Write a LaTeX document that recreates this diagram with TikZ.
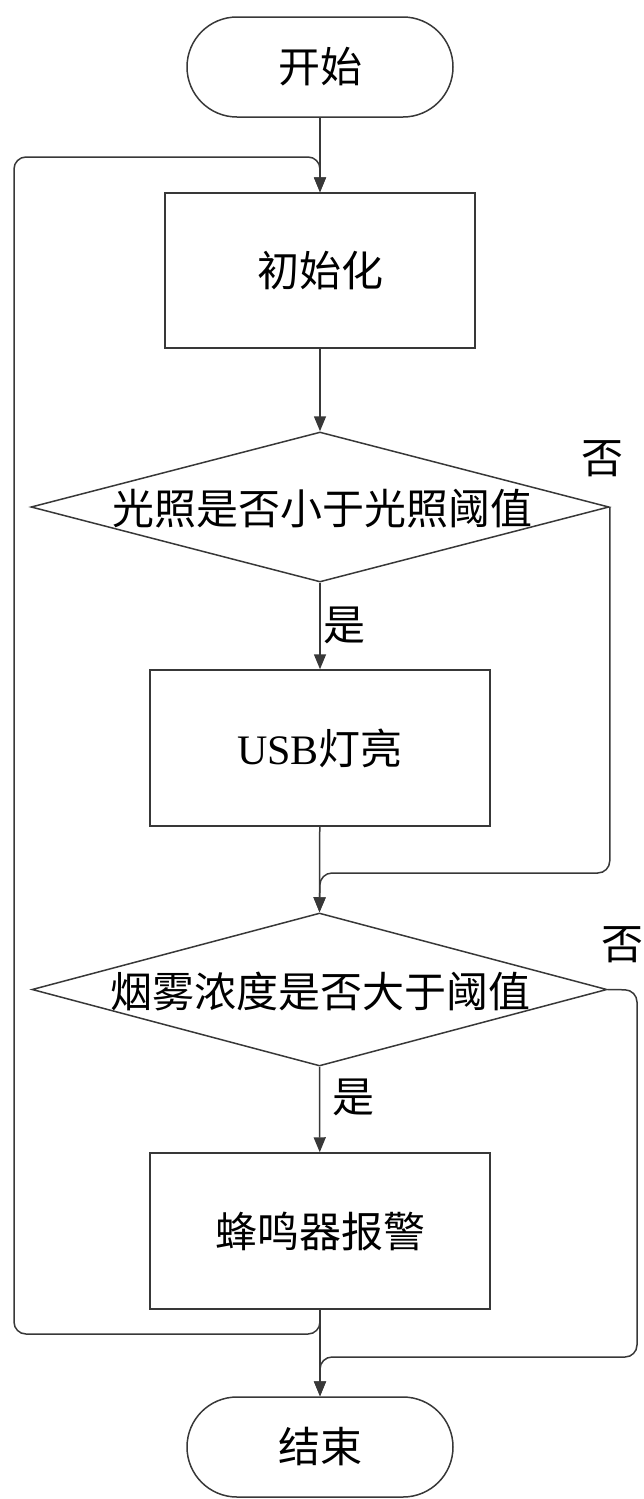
\documentclass[tikz,border=0pt]{standalone}
\usepackage{fontspec}
\setmainfont{Liberation Serif}
\newfontfamily\cjk{Noto Sans CJK SC}
\usetikzlibrary{shapes.geometric,arrows.meta}
\definecolor{ln}{rgb}{0.22,0.22,0.22}
\tikzset{
  base/.style={draw=ln, line width=1.5pt, inner sep=0pt, align=center,
    font=\cjk\fontsize{42}{48}\selectfont},
  term/.style={base, rounded corners=50pt, minimum width=266pt, minimum height=100pt},
  procbox/.style={base, rectangle},
  dia/.style={draw=ln, line width=1.5pt, diamond, inner sep=0pt},
  txt/.style={inner sep=0pt, font=\cjk\fontsize{42}{48}\selectfont},
  conn/.style={draw=ln, line width=1.5pt, rounded corners=12pt,
    -{Triangle[length=15pt,width=12pt]}}
}
\begin{document}
\begin{tikzpicture}[x=1pt,y=-1pt]
\useasboundingbox (0,0) rectangle (643,1499);
% nodes
\node[term] (start) at (320,67) {开始};
\node[procbox, minimum width=310pt, minimum height=155pt] (init) at (320,270.5) {初始化};
\node[dia, minimum width=578pt, minimum height=150pt] (d1) at (320,507) {};
\node[txt] (d1t) at (322,509) {光照是否小于光照阈值};
\node[procbox, minimum width=340pt, minimum height=156pt] (usb) at (320,748) {{\rmfamily USB}灯亮};
\node[dia, minimum width=575pt, minimum height=153pt] (d2) at (319.5,989.5) {};
\node[txt] (d2t) at (320,991) {烟雾浓度是否大于阈值};
\node[procbox, minimum width=340pt, minimum height=156pt] (buz) at (320,1231) {蜂鸣器报警};
\node[term] (end) at (320,1447) {结束};
% labels
\node[txt] (no1) at (602,459) {否};
\node[txt] (no2) at (622,945) {否};
\node[txt] (yes1) at (344,625) {是};
\node[txt] (yes2) at (353,1097) {是};
% helper coordinates
\coordinate (j1) at (320,873);
\coordinate (r2) at (637,990);
\coordinate (j2) at (320,1357);
\coordinate (l1) at (320,1334);
\coordinate (l2) at (14,1334);
\coordinate (l3) at (14,157);
\coordinate (l4) at (320,157);
% connectors
\draw[conn] (start) -- (init);
\draw[conn] (init) -- (d1.north);
\draw[conn] (d1.south) -- (usb);
\draw[conn] (usb) -- (d2.north);
\draw[conn] (d1.east) |- (j1) -- (d2.north);
\draw[conn] (d2.south) -- (buz);
\draw[conn] (buz) -- (end);
\draw[conn] (d2.east) -- (r2) |- (j2) -- (end.north);
\draw[conn] (buz.south) -- (l1) -- (l2) -- (l3) -- (l4) -- (init.north);
\end{tikzpicture}
\end{document}
